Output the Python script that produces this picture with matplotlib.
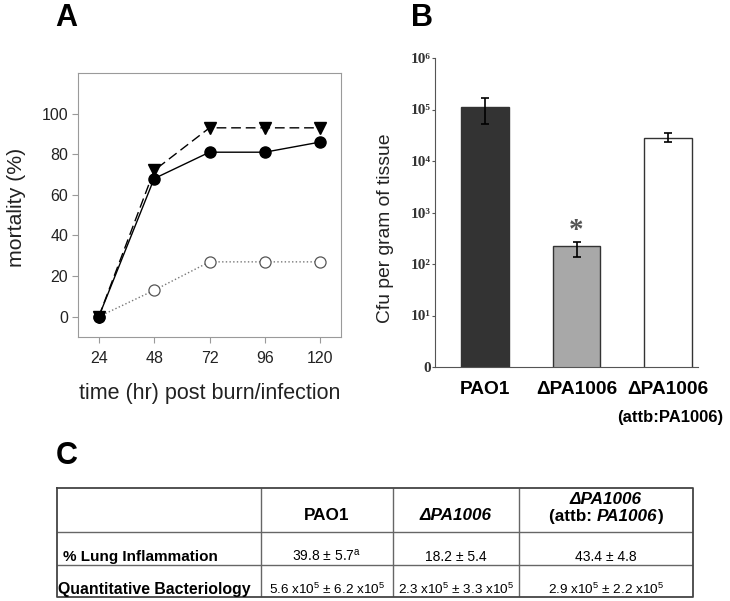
import matplotlib
matplotlib.use("Agg")
import matplotlib.pyplot as plt
from matplotlib.offsetbox import TextArea, HPacker, AnnotationBbox
import numpy as np

plt.rcParams['font.family'] = ['Liberation Sans', 'DejaVu Sans']
plt.rcParams['mathtext.fontset'] = 'custom'
plt.rcParams['mathtext.rm'] = 'Liberation Sans'
plt.rcParams['mathtext.it'] = 'Liberation Sans:italic'
plt.rcParams['mathtext.bf'] = 'Liberation Sans:bold'

# panel A data
hours = [24, 48, 72, 96, 120]
mort_tri = [0, 72, 93, 93, 93]
mort_filled = [0, 68, 81, 81, 86]
mort_open = [0, 13, 27, 27, 27]

# panel B data
strains = ['PAO1', 'ΔPA1006', 'ΔPA1006']
cfu = np.array([1.13e5, 2.2e2, 2.75e4])
cfu_lo = np.array([5.2e4, 1.35e2, 2.3e4])
cfu_hi = np.array([1.7e5, 2.65e2, 3.45e4])
bar_colors = ['#333333', '#a8a8a8', 'white']
log_ticks = [1, 1e1, 1e2, 1e3, 1e4, 1e5, 1e6]
log_labels = ['0', '10¹', '10²', '10³', '10⁴', '10⁵', '10⁶']

# panel C data
col_headers = ['PAO1', 'ΔPA1006']
row_labels = ['% Lung Inflammation', 'Quantitative Bacteriology']
inflammation = [r'39.8 ± 5.7$^{\mathrm{a}}$', '18.2 ± 5.4', '43.4 ± 4.8']
bacteriology = [r'5.6 x10$^{5}$ ± 6.2 x10$^{5}$',
                r'2.3 x10$^{5}$ ± 3.3 x10$^{5}$',
                r'2.9 x10$^{5}$ ± 2.2 x10$^{5}$']

W, H = 730, 601
fig = plt.figure(figsize=(7.3, 6.01), dpi=100)


def box(l, t, r, b):
    return [l / W, 1 - b / H, (r - l) / W, (b - t) / H]


# ---- A ----
ax = fig.add_axes(box(78, 73, 341, 337))
ax.plot(hours, mort_open, ls=':', color='#777777', lw=1, marker='o', ms=8,
        mfc='white', mec='#555555', mew=0.9)
ax.plot(hours, mort_filled, '-', color='black', lw=1, marker='o', ms=8)
ax.plot(hours, mort_tri, color='black', lw=1, dashes=(7, 3.5), marker='v', ms=8)
ax.set_xlim(15, 129)
ax.set_ylim(-10, 120)
ax.set_xticks(hours)
ax.set_yticks([0, 20, 40, 60, 80, 100])
for s in ax.spines.values():
    s.set_color('#9a9a9a')
ax.tick_params(axis='both', color='#9a9a9a', length=4, labelsize=11.5, labelcolor='#222222')
ax.tick_params(axis='x', pad=6)
ax.tick_params(axis='y', pad=3)
ax.text(-0.235, 0.49, 'mortality (%)', rotation=90, ha='center', va='center',
        fontsize=15.3, color='#222222', transform=ax.transAxes)
ax.text(0.5, -0.215, 'time (hr) post burn/infection', ha='center', va='center',
        fontsize=15.5, color='#222222', transform=ax.transAxes)

# ---- B ----
axb = fig.add_axes(box(435, 58, 698, 367))
axb.set_yscale('log')
x = np.arange(len(strains))
axb.bar(x, cfu, width=0.52, color=bar_colors, edgecolor='#333333', lw=1)
axb.errorbar(x, cfu, yerr=[cfu - cfu_lo, cfu_hi - cfu], fmt='none',
             ecolor='black', elinewidth=1.2, capsize=3.2, capthick=1.2)
axb.set_ylim(1, 1e6)
axb.set_xlim(-0.55, 2.33)
axb.set_yticks(log_ticks)
axb.set_yticklabels(log_labels, family=['Liberation Serif', 'DejaVu Serif'],
                    fontweight='bold', fontsize=11, color='#333333')
axb.minorticks_off()
axb.set_xticks(x)
axb.set_xticklabels(strains, fontweight='bold', fontsize=13.8)
axb.tick_params(axis='x', length=0, pad=10)
axb.tick_params(axis='y', length=2.5, pad=0.5, color='#555555')
axb.spines['top'].set_visible(False)
axb.spines['right'].set_visible(False)
axb.spines['left'].set_color('#555555')
axb.spines['bottom'].set_color('#555555')
axb.text(x[2] + 0.03, -0.162, '(attb:PA1006)', ha='center', va='center',
         fontweight='bold', fontsize=12, transform=axb.get_xaxis_transform())
axb.text(x[1], 450, '*', ha='center', va='center', fontsize=21, color='#555555',
         fontweight='bold', family=['Liberation Serif', 'DejaVu Serif'])
axb.text(-0.19, 0.45, 'Cfu per gram of tissue', rotation=90, ha='center', va='center',
         fontsize=13.9, color='#222222', transform=axb.transAxes)

# ---- C (table) ----
col_w = [204, 132, 126, 174]
row_h = [44, 33, 32]
xe = np.concatenate([[0], np.cumsum(col_w)])
ye = np.concatenate([[0], np.cumsum(row_h)])
axt = fig.add_axes(box(57, 488, 693, 597))
axt.set_xlim(0, xe[-1])
axt.set_ylim(ye[-1], 0)
axt.axis('off')
axt.hlines(ye[1:-1], 0, xe[-1], color='#666666', lw=1)
axt.vlines(xe[1:-1], 0, ye[-1], color='#666666', lw=1)
axt.plot([0, xe[-1], xe[-1], 0, 0], [0, 0, ye[-1], ye[-1], 0], color='#444444', lw=1.3,
         clip_on=False)
cx = (xe[1:-1] + xe[2:]) / 2
axt.text(cx[0], 32, col_headers[0], ha='center', va='baseline', fontsize=12.3,
         fontweight='bold')
axt.text(cx[1], 32, col_headers[1], ha='center', va='baseline', fontsize=12.3,
         fontweight='bold', fontstyle='italic')
axt.text(cx[2], 16, col_headers[1], ha='center', va='baseline', fontsize=12.3,
         fontweight='bold', fontstyle='italic')
parts = [TextArea('(attb: ', textprops=dict(fontsize=12.3, fontweight='bold')),
         TextArea('PA1006', textprops=dict(fontsize=12.3, fontweight='bold',
                                           fontstyle='italic')),
         TextArea(')', textprops=dict(fontsize=12.3, fontweight='bold'))]
packed = HPacker(children=parts, pad=0, sep=0, align='baseline')
axt.add_artist(AnnotationBbox(packed, (cx[2], 36), xycoords='data',
                              box_alignment=(0.5, 0), frameon=False, pad=0))
axt.text(6, 73, row_labels[0], ha='left', va='baseline', fontsize=11, fontweight='bold')
axt.text(1.5, 106, row_labels[1], ha='left', va='baseline', fontsize=11.4,
         fontweight='bold')
for i in range(3):
    axt.text(cx[i], 73, inflammation[i], ha='center', va='baseline', fontsize=10)
    axt.text(cx[i], 106, bacteriology[i], ha='center', va='baseline', fontsize=9.7)

# panel letters
fig.text(55 / W, 1 - 18 / H, 'A', fontsize=22, fontweight='bold', va='center')
fig.text(411 / W, 1 - 18 / H, 'B', fontsize=22, fontweight='bold', va='center')
fig.text(56 / W, 1 - 456 / H, 'C', fontsize=22, fontweight='bold', va='center')

fig.savefig('out.png', dpi=100)
